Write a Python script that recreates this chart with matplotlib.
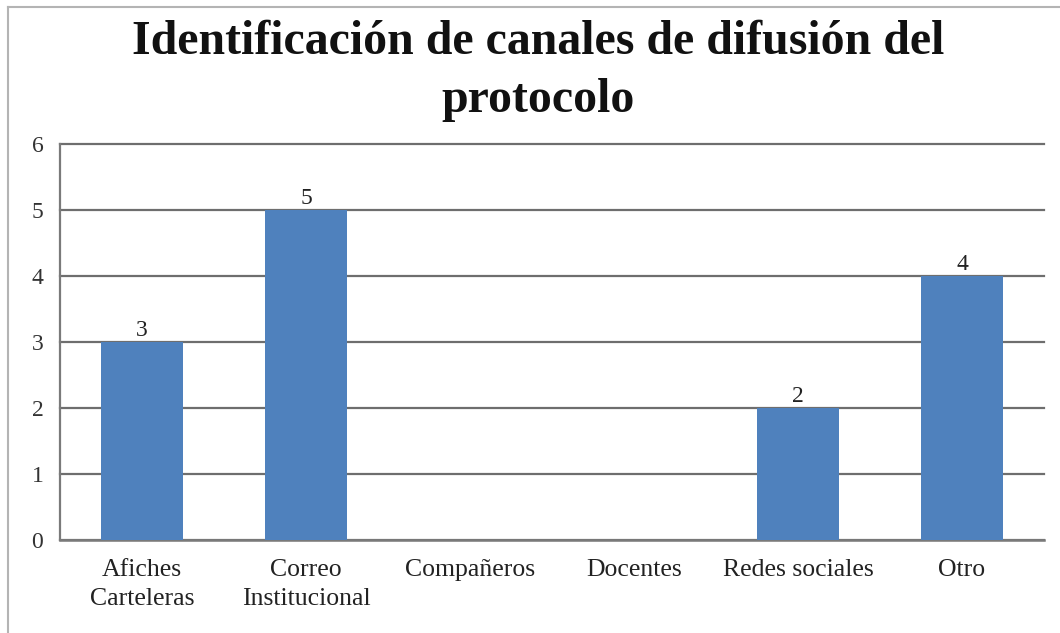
import matplotlib
matplotlib.use("Agg")
import matplotlib.pyplot as plt
from matplotlib.lines import Line2D

categories = ["Afiches\nCarteleras", "Correo\nInstitucional", "Compañeros", "Docentes", "Redes sociales", "Otro"]
values = [3, 5, 0, 0, 2, 4]
yticks = [0, 1, 2, 3, 4, 5, 6]
title = "Identificación de canales de difusión del\nprotocolo"

plt.rcParams['font.family'] = ['Liberation Serif', 'DejaVu Serif']

fig = plt.figure(figsize=(10.6, 6.33), dpi=100)
# outer frame: only top and left edges visible
fig.lines.append(Line2D([8/1060, 1.0], [1 - 7/633, 1 - 7/633], transform=fig.transFigure,
                        color='#b4b4b4', linewidth=1.5))
fig.lines.append(Line2D([8/1060, 8/1060], [0.0, 1 - 7/633], transform=fig.transFigure,
                        color='#b4b4b4', linewidth=1.5))
ax = fig.add_axes([60/1060, 1 - 540/633, 984/1060, 396/633])

x = range(len(categories))
bars = ax.bar(x, values, width=0.5, color='#4F81BD', zorder=3)
for xi, v in zip(x, values):
    if v > 0:
        ax.text(xi, v + 0.01, str(v), ha='center', va='bottom', fontsize=17, color='#222222')

ax.set_xlim(-0.5, len(categories) - 0.5)
ax.set_ylim(0, 6)
ax.set_yticks(yticks)
ax.set_yticklabels([str(t) for t in yticks], fontsize=17, color='#333333')
ax.set_xticks(list(x))
ax.set_xticklabels(categories, fontsize=18.5, color='#222222', linespacing=1.4)
ax.tick_params(axis='x', length=0, pad=14)
ax.tick_params(axis='y', length=0, pad=12)
ax.yaxis.grid(True, color='#6e6e6e', linewidth=1.6, zorder=0)
for gl in ax.get_ygridlines():
    gl.set_clip_on(False)
ax.set_axisbelow(True)
for s in ['top', 'right']:
    ax.spines[s].set_visible(False)
ax.spines['left'].set_color('#7a7a7a')
ax.spines['left'].set_linewidth(1.6)
ax.spines['bottom'].set_color('#7a7a7a')
ax.spines['bottom'].set_linewidth(1.8)

fig.text(0.508, 1 - 71/633, title, ha='center', va='center', fontsize=34.5, fontweight='bold',
         linespacing=1.42, color='#111111')

fig.savefig("out.png", dpi=100, facecolor='white')
